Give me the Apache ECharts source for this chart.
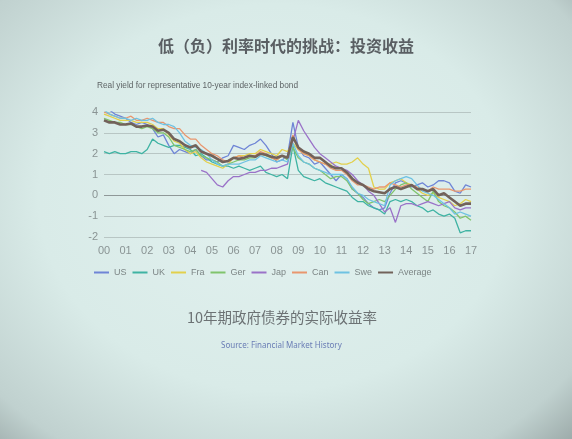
<!DOCTYPE html>
<html>
<head>
<meta charset="utf-8">
<script src="https://cdn.jsdelivr.net/npm/echarts@6/dist/echarts.min.js"></script>
<style>
  html, body { margin: 0; padding: 0; }
  body {
    width: 572px;
    height: 439px;
    background: radial-gradient(ellipse 75% 80% at 48% 45%, #e2f1ef 0%, #d9ebe8 55%, #c0d1cf 85%, #97a5a4 100%);
    overflow: hidden;
  }
  #chart { width: 572px; height: 439px; }
</style>
</head>
<body>
<div id="chart"></div>
<script>
// year labels on the x axis, one per January; data is quarterly
const years = ['00', '01', '02', '03', '04', '05', '06', '07', '08', '09', '10', '11', '12', '13', '14', '15', '16', '17']
const quarters = ['Q1', 'Q2', 'Q3', 'Q4']

// real yields, % (quarterly, 2000Q1 .. 2017Q1)
const us = [
  4.3, 4.1, 3.9, 3.8, 3.7, 3.5, 3.4, 3.5, 3.4, 3.2, 2.8, 2.9, 2.4, 2.0, 2.2, 2.1,
  2.0, 2.2, 1.9, 1.7, 1.7, 1.6, 1.8, 1.9, 2.4, 2.3, 2.2, 2.4, 2.5, 2.7, 2.4, 2.0,
  1.6, 1.7, 1.9, 3.5, 2.3, 1.9, 1.8, 1.5, 1.6, 1.3, 1.0, 0.7, 1.0, 0.8, 0.3, 0.1,
  -0.1, -0.4, -0.6, -0.7, -0.6, 0.1, 0.6, 0.7, 0.6, 0.4, 0.5, 0.6, 0.4, 0.5, 0.7, 0.7,
  0.6, 0.2, 0.1, 0.5, 0.4,
]
const uk = [
  2.1, 2.0, 2.1, 2.0, 2.0, 2.1, 2.1, 2.0, 2.2, 2.7, 2.5, 2.4, 2.3, 2.4, 2.4, 2.3,
  2.2, 1.9, 2.0, 1.8, 1.6, 1.5, 1.4, 1.4, 1.3, 1.4, 1.3, 1.2, 1.3, 1.4, 1.1, 1.0,
  0.9, 1.0, 0.8, 2.4, 1.2, 0.9, 0.8, 0.7, 0.8, 0.6, 0.5, 0.4, 0.3, 0.2, -0.1, -0.3,
  -0.3, -0.5, -0.6, -0.7, -0.9, -0.3, -0.2, -0.3, -0.2, -0.3, -0.5, -0.6, -0.8, -0.7, -0.9, -1.0,
  -0.9, -1.1, -1.8, -1.7, -1.7,
]
const fra = [
  3.9, 3.8, 3.7, 3.6, 3.6, 3.6, 3.5, 3.5, 3.5, 3.4, 3.2, 3.2, 2.9, 2.6, 2.5, 2.2,
  2.0, 2.1, 1.8, 1.6, 1.5, 1.4, 1.3, 1.5, 1.8, 1.9, 1.9, 2.0, 2.0, 2.2, 2.1, 2.0,
  1.9, 2.2, 2.1, 2.5, 2.2, 2.0, 1.9, 1.7, 1.6, 1.5, 1.5, 1.6, 1.5, 1.5, 1.6, 1.8,
  1.5, 1.3, 0.4, 0.3, 0.3, 0.6, 0.7, 0.8, 0.6, 0.5, 0.3, 0.1, 0.0, 0.1, -0.1, -0.2,
  -0.3, -0.5, -0.4, -0.2, -0.3,
]
const ger = [
  3.7, 3.6, 3.5, 3.5, 3.4, 3.4, 3.3, 3.2, 3.3, 3.2, 3.0, 3.0, 2.8, 2.4, 2.3, 2.2,
  2.1, 2.2, 1.9, 1.8, 1.7, 1.6, 1.4, 1.5, 1.6, 1.7, 1.7, 1.8, 1.8, 2.0, 1.9, 1.8,
  1.7, 1.9, 1.7, 2.3, 1.8, 1.6, 1.5, 1.3, 1.2, 1.0, 0.8, 0.9, 0.9, 0.7, 0.3, 0.1,
  -0.2, -0.4, -0.3, -0.2, -0.3, 0.0, 0.3, 0.5, 0.6, 0.3, 0.1, -0.1, -0.3, 0.2, -0.3, -0.5,
  -0.6, -0.8, -1.1, -1.0, -1.2,
]
const jap = [
  null, null, null, null, null, null, null, null, null, null, null, null, null, null, null, null,
  null, null, 1.2, 1.1, 0.8, 0.5, 0.4, 0.7, 0.9, 0.9, 1.0, 1.1, 1.1, 1.2, 1.2, 1.3,
  1.3, 1.4, 1.5, 2.6, 3.6, 3.1, 2.7, 2.3, 2.0, 1.8, 1.6, 1.4, 1.3, 1.2, 1.0, 0.7,
  0.5, 0.2, 0.0, -0.4, -0.8, -0.6, -1.3, -0.5, -0.4, -0.4, -0.5, -0.4, -0.3, -0.4, -0.5, -0.4,
  -0.3, -0.6, -0.7, -0.6, -0.6,
]
const can = [
  4.0, 3.9, 3.8, 3.7, 3.7, 3.8, 3.6, 3.6, 3.7, 3.6, 3.5, 3.5, 3.3, 3.2, 3.2, 2.9,
  2.7, 2.7, 2.4, 2.2, 2.0, 1.9, 1.7, 1.6, 1.8, 1.9, 1.8, 1.9, 1.9, 2.1, 2.0, 1.8,
  1.7, 1.9, 1.8, 2.9, 2.2, 2.0, 1.9, 1.7, 1.6, 1.5, 1.3, 1.2, 1.2, 1.0, 0.7, 0.5,
  0.5, 0.4, 0.3, 0.4, 0.4, 0.6, 0.5, 0.4, 0.5, 0.5, 0.4, 0.3, 0.2, 0.4, 0.3, 0.3,
  0.3, 0.2, 0.2, 0.3, 0.3,
]
const swe = [
  4.1, 3.9, 3.8, 3.7, 3.7, 3.6, 3.7, 3.6, 3.6, 3.7, 3.5, 3.4, 3.4, 3.3, 3.0, 2.6,
  2.4, 2.3, 2.2, 2.0, 1.7, 1.5, 1.4, 1.5, 1.5, 1.5, 1.6, 1.7, 1.7, 1.9, 1.8, 1.7,
  1.6, 1.7, 1.6, 2.5, 1.9, 1.6, 1.5, 1.3, 1.2, 1.1, 1.0, 1.0, 1.0, 0.8, 0.4, 0.1,
  0.0, -0.2, -0.3, -0.4, -0.5, 0.5, 0.7, 0.8, 0.9, 0.8, 0.5, 0.2, 0.1, 0.0, -0.2, -0.4,
  -0.6, -0.9, -0.8, -0.9, -1.0,
]
const average = [
  3.6, 3.5, 3.5, 3.4, 3.4, 3.45, 3.3, 3.3, 3.35, 3.3, 3.1, 3.15, 3.0, 2.7, 2.6, 2.4,
  2.3, 2.4, 2.1, 2.0, 1.9, 1.75, 1.6, 1.65, 1.8, 1.75, 1.8, 1.9, 1.85, 2.0, 1.95, 1.85,
  1.8, 1.9, 1.8, 2.8, 2.3, 2.1, 2.0, 1.8, 1.8, 1.6, 1.4, 1.3, 1.3, 1.1, 0.8, 0.6,
  0.5, 0.3, 0.2, 0.15, 0.1, 0.3, 0.4, 0.3, 0.4, 0.5, 0.3, 0.3, 0.2, 0.3, 0.0, 0.1,
  -0.1, -0.3, -0.5, -0.4, -0.4,
]

const seriesDefs = [
  { name: 'US', data: us, color: '#6f85d6' },
  { name: 'UK', data: uk, color: '#3fb3a3' },
  { name: 'Fra', data: fra, color: '#e2d04c' },
  { name: 'Ger', data: ger, color: '#80c46c' },
  { name: 'Jap', data: jap, color: '#9a72c8' },
  { name: 'Can', data: can, color: '#e9966e' },
  { name: 'Swe', data: swe, color: '#6ec2e2' },
  { name: 'Average', data: average, color: '#72625a', width: 2.6 },
]

// 2000Q1 .. 2017Q1
const categories = years.flatMap((y) => quarters.map((q) => y + q)).slice(0, us.length)

const chart = echarts.init(document.getElementById('chart'))

const gridLine = '#b8c6c4'

chart.setOption({
  backgroundColor: 'transparent',
  animation: false,
  textStyle: { fontFamily: "'Liberation Sans', Arial, sans-serif" },
  grid: { left: 104, right: 101, top: 112, bottom: 202, containLabel: false },
  legend: {
    left: 88,
    top: 263,
    itemWidth: 15,
    itemHeight: 8,
    itemGap: 5,
    itemStyle: { opacity: 0 },
    textStyle: { color: '#7c8585', fontSize: 9 },
    data: seriesDefs.map((s) => s.name),
  },
  xAxis: {
    type: 'category',
    data: categories,
    boundaryGap: false,
    axisLine: { show: false },
    axisTick: { show: false },
    axisLabel: {
      interval: 3,
      color: '#8a9494',
      fontSize: 11,
      margin: 8,
      formatter: (v) => v.slice(0, 2),
    },
    splitLine: { show: false },
  },
  yAxis: {
    type: 'value',
    min: -2,
    max: 4,
    interval: 1,
    axisLine: { show: false },
    axisTick: { show: false },
    axisLabel: { color: '#8a9494', fontSize: 11, margin: 6 },
    splitLine: {
      lineStyle: {
        color: [gridLine, gridLine, '#8f9898', gridLine, gridLine, gridLine, gridLine],
        width: 1.2,
      },
    },
  },
  series: seriesDefs.map((s) => ({
    name: s.name,
    type: 'line',
    data: s.data,
    showSymbol: false,
    symbol: 'none',
    connectNulls: false,
    z: s.name === 'Average' ? 5 : 2,
    itemStyle: { color: s.color },
    lineStyle: { color: s.color, width: s.width || 1.3 },
  })),
  graphic: [
    {
      type: 'text',
      left: 'center',
      top: 38,
      style: {
        text: '低（负）利率时代的挑战：投资收益',
        fill: '#5a5f63',
        fontSize: 16,
        fontWeight: 'bold',
        fontFamily: "'Noto Sans CJK SC', sans-serif",
      },
    },
    {
      type: 'text',
      left: 97,
      top: 82,
      style: {
        text: 'Real yield for representative 10-year index-linked bond',
        fill: '#5e6466',
        fontSize: 8.3,
        fontFamily: "'Liberation Sans', sans-serif",
      },
    },
    {
      type: 'text',
      left: 187,
      top: 310,
      style: {
        text: '10年期政府债券的实际收益率',
        fill: '#6c7274',
        fontSize: 14.5,
        fontFamily: "'Noto Sans CJK SC', sans-serif",
      },
    },
    {
      type: 'text',
      left: 221,
      top: 342,
      style: {
        text: 'Source: Financial Market History',
        fill: '#6a7db5',
        fontSize: 8,
        fontFamily: "'Noto Sans', sans-serif",
      },
    },
  ],
})
</script>
</body>
</html>
